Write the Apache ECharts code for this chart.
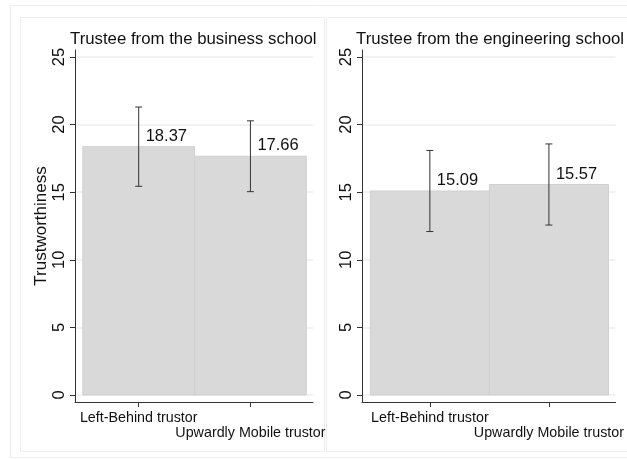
<!DOCTYPE html>
<html>
<head>
<meta charset="utf-8">
<script src="https://cdn.jsdelivr.net/npm/echarts@6/dist/echarts.min.js"></script>
<style>
  html, body { margin: 0; padding: 0; background: #fff; }
  #chart { width: 627px; height: 459px; }
</style>
</head>
<body>
<div id="chart"></div>
<script>
var panelTitles = ['Trustee from the business school', 'Trustee from the engineering school'];
var categories = ['Left-Behind trustor', 'Upwardly Mobile trustor'];
var xPositions = [1, 2];
var yTicks = [0, 5, 10, 15, 20, 25];

// means and 95% CI ends, per panel
var businessMean = [18.37, 17.66];
var businessLow = [15.44, 15.04];
var businessHigh = [21.30, 20.28];
var engineeringMean = [15.09, 15.57];
var engineeringLow = [12.09, 12.57];
var engineeringHigh = [18.09, 18.57];

var FONT = 'Liberation Sans, Arial, sans-serif';

function barData(means) {
  var out = [];
  for (var i = 0; i < means.length; i++) out.push([xPositions[i], means[i]]);
  return out;
}
function ciData(low, high) {
  var out = [];
  for (var i = 0; i < low.length; i++) out.push([xPositions[i], low[i], high[i]]);
  return out;
}

function renderBar(params, api) {
  var x = api.value(0), v = api.value(1);
  var p0 = api.coord([x - 0.5, v]);
  var p1 = api.coord([x + 0.5, 0]);
  var c = api.coord([x, v]);
  return {
    type: 'group',
    children: [{
      type: 'rect',
      shape: { x: p0[0], y: p0[1], width: p1[0] - p0[0], height: p1[1] - p0[1] },
      style: { fill: '#d9d9d9', stroke: '#d0d0d0', lineWidth: 1 }
    }, {
      type: 'text',
      x: c[0] + 7, y: c[1] - 2,
      style: { text: v.toFixed(2), fill: '#111', fontSize: 16.5, fontFamily: FONT,
               align: 'left', verticalAlign: 'bottom' }
    }]
  };
}

function renderCI(params, api) {
  var x = api.value(0);
  var lo = api.coord([x, api.value(1)]);
  var hi = api.coord([x, api.value(2)]);
  var w = 3.5;
  var st = { stroke: '#333', lineWidth: 1 };
  return {
    type: 'group',
    children: [
      { type: 'line', shape: { x1: lo[0], y1: lo[1], x2: hi[0], y2: hi[1] }, style: st },
      { type: 'line', shape: { x1: lo[0] - w, y1: lo[1], x2: lo[0] + w, y2: lo[1] }, style: st },
      { type: 'line', shape: { x1: hi[0] - w, y1: hi[1], x2: hi[0] + w, y2: hi[1] }, style: st }
    ]
  };
}

function xAxisFor(idx) {
  return {
    type: 'value', gridIndex: idx, min: 0.43, max: 2.56,
    axisLine: { show: true, onZero: false, lineStyle: { color: '#333', width: 1 } },
    axisTick: { show: true, customValues: xPositions, length: 5, lineStyle: { color: '#333' } },
    axisLabel: {
      customValues: xPositions, margin: 9, color: '#111', fontSize: 14.3, fontFamily: FONT,
      formatter: function (val) {
        var i = xPositions.indexOf(val);
        return i === 1 ? '{b|' + categories[i] + '}' : '{a|' + categories[i] + '}';
      },
      rich: {
        a: { fontSize: 14.3, fontFamily: FONT, color: '#111' },
        b: { fontSize: 14.3, fontFamily: FONT, color: '#111', padding: [15, 0, 0, 0] }
      }
    },
    splitLine: { show: false }
  };
}

function yAxisFor(idx) {
  var ax = {
    type: 'value', gridIndex: idx, min: -0.52, max: 25.52,
    axisLine: { show: true, lineStyle: { color: '#333', width: 1 } },
    axisTick: { show: true, customValues: yTicks, length: 5, lineStyle: { color: '#333' } },
    axisLabel: { customValues: yTicks, rotate: 90, margin: 7, color: '#111', fontSize: 16.5, fontFamily: FONT },
    splitLine: { show: true, customValues: yTicks, lineStyle: { color: '#eeeeee', width: 1.5 } }
  };
  if (idx === 0) {
    ax.name = 'Trustworthiness';
    ax.nameLocation = 'middle';
    ax.nameRotate = 90;
    ax.nameGap = 24;
    ax.nameTextStyle = { fontSize: 17, fontFamily: FONT, color: '#111' };
  }
  return ax;
}

var chart = echarts.init(document.getElementById('chart'), null, { renderer: 'canvas' });
chart.setOption({
  backgroundColor: '#fff',
  animation: false,
  graphic: [
    { type: 'rect', shape: { x: 10.5, y: 5.5, width: 640, height: 452 }, style: { fill: 'none', stroke: '#ededed', lineWidth: 1 }, z: -10 },
    { type: 'rect', shape: { x: 20.5, y: 17.5, width: 304, height: 434 }, style: { fill: 'none', stroke: '#ededed', lineWidth: 1 }, z: -10 },
    { type: 'rect', shape: { x: 326.5, y: 17.5, width: 320, height: 434 }, style: { fill: 'none', stroke: '#ededed', lineWidth: 1 }, z: -10 }
  ],
  title: [
    { text: panelTitles[0], left: 65, top: 26, textStyle: { fontSize: 16.8, fontWeight: 'normal', fontFamily: FONT, color: '#111' } },
    { text: panelTitles[1], left: 351, top: 26, textStyle: { fontSize: 16.8, fontWeight: 'normal', fontFamily: FONT, color: '#111' } }
  ],
  grid: [
    { left: 75, right: 314, top: 50, bottom: 57 },
    { left: 362, right: 11, top: 50, bottom: 57 }
  ],
  xAxis: [xAxisFor(0), xAxisFor(1)],
  yAxis: [yAxisFor(0), yAxisFor(1)],
  series: [
    { type: 'custom', xAxisIndex: 0, yAxisIndex: 0, renderItem: renderBar, data: barData(businessMean), encode: { x: 0, y: 1 }, z: 2 },
    { type: 'custom', xAxisIndex: 0, yAxisIndex: 0, renderItem: renderCI, data: ciData(businessLow, businessHigh), encode: { x: 0, y: [1, 2] }, z: 3 },
    { type: 'custom', xAxisIndex: 1, yAxisIndex: 1, renderItem: renderBar, data: barData(engineeringMean), encode: { x: 0, y: 1 }, z: 2 },
    { type: 'custom', xAxisIndex: 1, yAxisIndex: 1, renderItem: renderCI, data: ciData(engineeringLow, engineeringHigh), encode: { x: 0, y: [1, 2] }, z: 3 }
  ]
});
</script>
</body>
</html>
